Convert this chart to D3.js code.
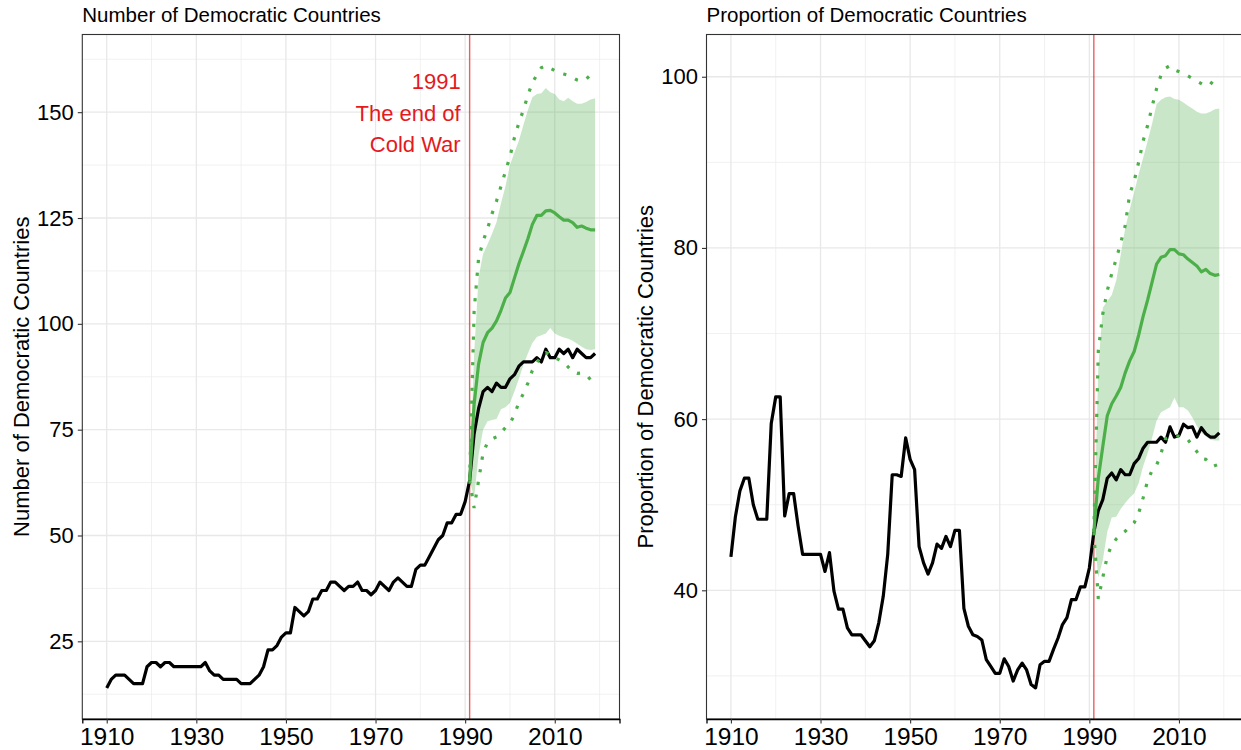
<!DOCTYPE html>
<html>
<head>
    <meta charset="utf-8">
    <title>Democratic Countries</title>
    <style>
        body { margin: 0; background: white; }
        svg { display: block; font-family: "Liberation Sans", Arial, sans-serif; }
    </style>
</head>
<body>
    <script src="https://cdnjs.cloudflare.com/ajax/libs/d3/7.8.5/d3.min.js"></script>
    <script>

// observed series, 1910 - 2019
var years = [1910,1911,1912,1913,1914,1915,1916,1917,1918,1919,
    1920,1921,1922,1923,1924,1925,1926,1927,1928,1929,
    1930,1931,1932,1933,1934,1935,1936,1937,1938,1939,
    1940,1941,1942,1943,1944,1945,1946,1947,1948,1949,
    1950,1951,1952,1953,1954,1955,1956,1957,1958,1959,
    1960,1961,1962,1963,1964,1965,1966,1967,1968,1969,
    1970,1971,1972,1973,1974,1975,1976,1977,1978,1979,
    1980,1981,1982,1983,1984,1985,1986,1987,1988,1989,
    1990,1991,1992,1993,1994,1995,1996,1997,1998,1999,
    2000,2001,2002,2003,2004,2005,2006,2007,2008,2009,
    2010,2011,2012,2013,2014,2015,2016,2017,2018,2019];

var demCount = [14,16,17,17,17,16,15,15,15,19,
    20,20,19,20,20,19,19,19,19,19,
    19,19,20,18,17,17,16,16,16,16,
    15,15,15,16,17,19,23,23,24,26,
    27,27,33,32,31,32,35,35,37,37,
    39,39,38,37,38,38,39,37,37,36,
    37,39,38,37,39,40,39,38,38,42,
    43,43,45,47,49,50,53,53,55,55,
    58,63,74,80,84,85,84,86,85,85,
    87,88,90,91,91,91,92,91,94,92,
    92,94,93,94,92,94,93,92,92,93];

var demShare = [43.9,48.6,51.6,53.1,53.1,50,48.3,48.3,48.3,59.5,
    62.6,62.6,48.7,51.3,51.3,47.5,44.2,44.2,44.2,44.2,
    44.2,42.2,44.4,39.9,37.8,37.8,35.6,34.8,34.8,34.8,
    34.1,33.4,34.1,36.2,39.3,44.2,53.5,53.5,53.3,57.8,
    55.3,54.1,45.1,43.2,41.9,43.2,45.4,44.9,46.3,45.1,
    47,47,37.9,35.8,34.8,34.6,34.2,31.9,31.1,30.3,
    30.3,32,31.1,29.4,30.7,31.5,30.7,29,28.6,31.3,
    31.7,31.7,33.1,34.4,36,36.8,38.9,38.9,40.4,40.4,
    42.6,46.8,49.3,50.6,53.1,53.7,52.9,54.1,53.5,53.5,
    54.8,55.4,56.6,57.3,57.3,57.3,57.9,57.3,59.1,57.9,
    58.1,59.4,59,59.1,57.9,59,58.3,57.9,57.9,58.4];

// projection after the end of the Cold War, 1991 - 2019
var projYears = [1991,1992,1993,1994,1995,1996,1997,1998,1999,
    2000,2001,2002,2003,2004,2005,2006,2007,2008,2009,
    2010,2011,2012,2013,2014,2015,2016,2017,2018,2019];

var countMedian = [63,81,90.5,95.6,97.9,99,100.7,103.2,106.1,
    107.4,110.8,114.2,117.1,120.1,123.5,125.6,125.6,126.7,126.8,
    126.2,125.3,124.5,124.5,123.9,122.8,123.1,122.6,122.2,122.2];
var countBandHigh = [63,93,111,116.5,118.8,121.3,124,128.5,132.5,
    137.5,140.5,143.3,147,150.5,153.5,154.3,154.5,155.7,154.7,
    154.3,153,152.6,153.4,152.6,152,152,152.4,153,153.3];
var countBandLow = [63,59,69,75,77,77.3,77.5,79.8,80.3,
    81.3,84,87,90.3,93,95.5,96.9,97.3,97.7,99,
    97.7,97.2,96.8,96.5,96,95.3,94.6,94,93.8,94];
var countOuterHigh = [63,103,115.5,119.5,122.5,126,129,132.5,136,
    139.5,144,147.5,150.5,154,157,158.8,160.5,161,160.4,
    159.8,159.3,159,158.7,158.2,157.6,157.3,157.8,158.8,159.4];
var countOuterLow = [63,56.5,63,69.5,72,72.8,73.3,74.3,75.5,
    76.5,78.5,81.5,83.5,86,89,90.8,92.5,93.2,92.8,
    92,91.5,90.9,89.8,88.6,88.3,88.4,88,86.8,85];

var shareMedian = [46.8,53.1,56.8,60.4,61.8,62.7,63.7,65.4,66.8,
    67.9,69.8,72,73.9,76,78.1,78.9,79.1,79.8,79.8,
    79.3,79.2,78.7,78.3,77.9,77.2,77.5,77,76.8,76.9];
var shareBandHigh = [46.8,66,73,73.8,74.5,76.2,79.2,82.3,84.5,
    86.5,88.6,90.5,92.5,94.5,96.8,97.3,97.6,97.7,97.4,
    97.3,97,96.6,96.3,95.9,95.7,95.7,95.9,96.2,96.3];
var shareBandLow = [46.8,41.5,43.5,46.8,48.5,48.6,49.5,50.2,50.8,
    51.3,52.5,54.5,56,57.8,59.8,60.8,61.1,61.4,62.5,
    61.4,61.4,61,60.2,59.2,58.4,58,57.6,57.5,57.5];
var shareOuterHigh = [46.8,68,72.3,75,77,78.7,80.6,82.6,86.3,
    87.8,90,92.5,94.3,96.5,98.6,100.2,101,101.3,100.8,
    100.6,100.4,100.1,99.8,99.5,99.2,98.9,99.1,99.8,100.1];
var shareOuterLow = [46.8,39,41.5,44,45.3,46,46.5,46.9,47.4,
    47.9,49,50.8,52.8,54,54.6,56,57.7,57.9,58.1,
    58,57.9,57.6,56.9,56.2,55.4,55.3,54.8,54.8,53.5];

// axis breaks and labels
var xBreaks = [1910, 1930, 1950, 1970, 1990, 2010];
var xMinor = [1920, 1940, 1960, 1980, 2000, 2020];
var countBreaks = [25, 50, 75, 100, 125, 150];
var countMinor = [12.5, 37.5, 62.5, 87.5, 112.5, 137.5, 162.5];
var shareBreaks = [40, 60, 80, 100];
var shareMinor = [30, 50, 70, 90];

var eventYear = 1991;
var eventLines = ["1991", "The end of", "Cold War"];

var titles = ["Number of Democratic Countries", "Proportion of Democratic Countries"];


var config = {
    width: 1241,
    height: 750,
    panelTop: 34.5,
    panelBottom: 719,
    panelWidth: 537.2,
    panelLefts: [82.3, 706.5],
    green: "#4daf4a",
    red: "#e41a1c"
};

var svg = d3.select("body").append("svg")
    .attr("width", config.width)
    .attr("height", config.height);

svg.append("rect")
    .attr("width", config.width)
    .attr("height", config.height)
    .attr("fill", "white");

drawPanel(0, demCount, countBreaks, countMinor, {
    median: countMedian, bandHigh: countBandHigh, bandLow: countBandLow,
    outerHigh: countOuterHigh, outerLow: countOuterLow
}, true);

drawPanel(1, demShare, shareBreaks, shareMinor, {
    median: shareMedian, bandHigh: shareBandHigh, bandLow: shareBandLow,
    outerHigh: shareOuterHigh, outerLow: shareOuterLow
}, false);


function expand(ext) {
    var pad = (ext[1] - ext[0]) * 0.05;
    return [ext[0] - pad, ext[1] + pad];
}

function drawPanel(i, observed, yBreaks, yMinor, proj, withNote) {
    var left = config.panelLefts[i];
    var innerHeight = config.panelBottom - config.panelTop;

    var g = svg.append("g")
        .attr("transform", "translate(" + left + "," + config.panelTop + ")");

    var allValues = observed.concat(proj.median, proj.bandHigh, proj.bandLow, proj.outerHigh, proj.outerLow);

    var x = d3.scaleLinear()
        .domain(expand(d3.extent(years)))
        .range([0, config.panelWidth]);
    var y = d3.scaleLinear()
        .domain(expand(d3.extent(allValues)))
        .range([innerHeight, 0]);

    // grid
    var grid = g.append("g");
    grid.selectAll(".minor-y").data(yMinor).enter().append("line")
        .attr("x1", 0).attr("x2", config.panelWidth)
        .attr("y1", function (d) { return y(d); })
        .attr("y2", function (d) { return y(d); })
        .attr("stroke", "#ebebeb").attr("stroke-width", 0.7);
    grid.selectAll(".minor-x").data(xMinor).enter().append("line")
        .attr("y1", 0).attr("y2", innerHeight)
        .attr("x1", function (d) { return x(d); })
        .attr("x2", function (d) { return x(d); })
        .attr("stroke", "#ebebeb").attr("stroke-width", 0.7);
    grid.selectAll(".major-y").data(yBreaks).enter().append("line")
        .attr("x1", 0).attr("x2", config.panelWidth)
        .attr("y1", function (d) { return y(d); })
        .attr("y2", function (d) { return y(d); })
        .attr("stroke", "#e8e8e8").attr("stroke-width", 1.3);
    grid.selectAll(".major-x").data(xBreaks).enter().append("line")
        .attr("y1", 0).attr("y2", innerHeight)
        .attr("x1", function (d) { return x(d); })
        .attr("x2", function (d) { return x(d); })
        .attr("stroke", "#e8e8e8").attr("stroke-width", 1.3);

    // event line
    g.append("line")
        .attr("x1", x(eventYear)).attr("x2", x(eventYear))
        .attr("y1", 0).attr("y2", innerHeight)
        .attr("stroke", config.red)
        .attr("stroke-opacity", 0.7)
        .attr("stroke-width", 1.4);

    var pIdx = d3.range(projYears.length);

    var band = d3.area()
        .x(function (k) { return x(projYears[k]); })
        .y0(function (k) { return y(proj.bandLow[k]); })
        .y1(function (k) { return y(proj.bandHigh[k]); });

    g.append("path")
        .attr("d", band(pIdx))
        .attr("fill", config.green)
        .attr("fill-opacity", 0.3);

    var obsLine = d3.line()
        .x(function (d, k) { return x(years[k]); })
        .y(function (d) { return y(d); });

    var projLine = d3.line()
        .x(function (d, k) { return x(projYears[k]); })
        .y(function (d) { return y(d); });

    g.append("path")
        .attr("d", obsLine(observed))
        .attr("fill", "none")
        .attr("stroke", "black")
        .attr("stroke-width", 3.2)
        .attr("stroke-linejoin", "round");

    g.append("path")
        .attr("d", projLine(proj.median))
        .attr("fill", "none")
        .attr("stroke", config.green)
        .attr("stroke-width", 3.2)
        .attr("stroke-linejoin", "round");

    [proj.outerHigh, proj.outerLow].forEach(function (s) {
        g.append("path")
            .attr("d", projLine(s))
            .attr("fill", "none")
            .attr("stroke", config.green)
            .attr("stroke-width", 3.2)
            .attr("stroke-dasharray", "3.2 9.6");
    });

    if (withNote) {
        var note = g.append("text")
            .attr("x", x(eventYear - 2))
            .attr("y", y(150))
            .attr("text-anchor", "end")
            .attr("fill", config.red)
            .style("font-size", "22px");
        note.selectAll("tspan").data(eventLines).enter().append("tspan")
            .attr("x", x(eventYear - 2))
            .attr("dy", function (d, k) { return k === 0 ? "-1.05em" : "1.44em"; })
            .text(function (d) { return d; });
    }

    // border
    g.append("rect")
        .attr("width", config.panelWidth)
        .attr("height", innerHeight)
        .attr("fill", "none")
        .attr("stroke", "#333333")
        .attr("stroke-width", 1.1);

    // axes
    var yAxis = d3.axisLeft(y).tickValues(yBreaks).tickSize(4.5).tickPadding(4);
    var ya = g.append("g").call(yAxis);
    ya.select(".domain").remove();
    ya.selectAll("line").attr("stroke", "#333333").attr("stroke-width", 1.1);
    ya.selectAll("text").attr("fill", "black").style("font-size", "22px")
        .style("font-family", "Liberation Sans, Arial, sans-serif");

    var xAxis = d3.axisBottom(x).tickValues(xBreaks).tickFormat(d3.format("d")).tickSize(4.5).tickPadding(4.5);
    var xa = g.append("g").attr("transform", "translate(0," + innerHeight + ")").call(xAxis);
    xa.select(".domain").attr("stroke", "black").attr("stroke-width", 1.3);
    xa.selectAll("line").attr("stroke", "#333333").attr("stroke-width", 1.1);
    xa.selectAll("text").attr("fill", "black").style("font-size", "24.5px")
        .style("font-family", "Liberation Sans, Arial, sans-serif");

    // titles
    svg.append("text")
        .attr("x", left)
        .attr("y", 21.7)
        .style("font-size", "20.5px")
        .text(titles[i]);

    svg.append("text")
        .attr("transform", "translate(" + (left - 53.5) + "," + (config.panelTop + innerHeight / 2) + ") rotate(-90)")
        .attr("text-anchor", "middle")
        .style("font-size", "22px")
        .text(titles[i]);
}
    </script>
</body>
</html>
